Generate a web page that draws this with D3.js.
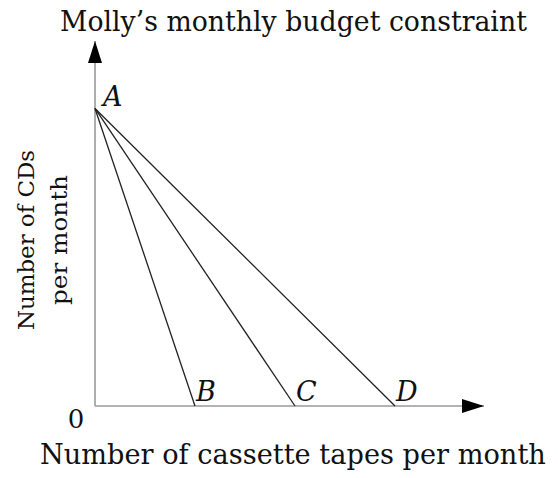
<!DOCTYPE html>
<html>
<head>
<meta charset="utf-8">
<script src="https://cdn.jsdelivr.net/npm/d3@7"></script>
<style>
  html, body { margin: 0; padding: 0; background: #fff; }
  svg { display: block; }
  text { font-family: "DejaVu Serif", "Liberation Serif", serif; fill: #111; }
</style>
</head>
<body>
<svg id="chart" width="558" height="478"></svg>
<script>
// Budget constraint: CDs (vertical) vs cassette tapes (horizontal)
const cdIntercept = 30;                 // point A on the CD axis
const tapeIntercepts = [10, 20, 30];    // points B, C, D on the tape axis
const tapeLabels = ["B", "C", "D"];
const originLabel = "0";
const titleText = "Molly\u2019s monthly budget constraint";
const xTitle = "Number of cassette tapes per month";
const yTitleLines = ["Number of CDs", "per month"];

const svg = d3.select("#chart");

const x = d3.scaleLinear().domain([0, 38.9]).range([95, 484]);
const y = d3.scaleLinear().domain([0, 36.8]).range([406, 41]);

// fit a text horizontally to a given width by scaling it around its start point
function fitWidth(sel, x0, y0, width) {
  const node = sel.node();
  const w = node.getComputedTextLength();
  const k = width / w;
  sel.attr("x", 0).attr("y", 0)
    .attr("transform", `translate(${x0},${y0}) scale(${k},1)`);
}

// arrowheads
const defs = svg.append("defs");
defs.append("marker")
  .attr("id", "arrow")
  .attr("viewBox", "0 0 22 14")
  .attr("refX", 22).attr("refY", 7)
  .attr("markerWidth", 22).attr("markerHeight", 14)
  .attr("markerUnits", "userSpaceOnUse")
  .attr("orient", "auto")
  .append("path")
  .attr("d", "M0,0 L22,7 L0,14 Z")
  .attr("fill", "#000");

// axes
svg.append("line")
  .attr("x1", x(0)).attr("y1", y(0))
  .attr("x2", x(38.9)).attr("y2", y(0))
  .attr("stroke", "#9a9a9a").attr("stroke-width", 1.6)
  .attr("marker-end", "url(#arrow)");
svg.append("line")
  .attr("x1", x(0)).attr("y1", y(0))
  .attr("x2", x(0)).attr("y2", y(36.8))
  .attr("stroke", "#9a9a9a").attr("stroke-width", 1.6)
  .attr("marker-end", "url(#arrow)");

// budget lines from A to each tape intercept
svg.selectAll("line.budget")
  .data(tapeIntercepts)
  .enter().append("line")
  .attr("class", "budget")
  .attr("x1", x(0)).attr("y1", y(cdIntercept))
  .attr("x2", d => x(d)).attr("y2", y(0))
  .attr("stroke", "#222").attr("stroke-width", 1.3);

// point labels
svg.append("text")
  .attr("x", x(0) + 8).attr("y", y(cdIntercept) - 2)
  .attr("font-size", 27).attr("font-style", "italic")
  .text("A");

svg.selectAll("text.pt")
  .data(tapeIntercepts)
  .enter().append("text")
  .attr("class", "pt")
  .attr("x", d => x(d) + 1).attr("y", y(0) - 5)
  .attr("font-size", 27).attr("font-style", "italic")
  .text((d, i) => tapeLabels[i]);

svg.append("text")
  .attr("x", 76).attr("y", 428)
  .attr("text-anchor", "middle")
  .attr("font-size", 26)
  .text(originLabel);

// titles
const title = svg.append("text")
  .attr("font-size", 28)
  .text(titleText);
fitWidth(title, 60, 31, 467);

const xt = svg.append("text")
  .attr("font-size", 28)
  .text(xTitle);
fitWidth(xt, 40, 464, 506);

const yt = svg.append("g").attr("transform", "translate(0,240) rotate(-90)");
yt.selectAll("text")
  .data(yTitleLines)
  .enter().append("text")
  .attr("x", 0).attr("y", (d, i) => 34 + i * 33)
  .attr("text-anchor", "middle")
  .attr("font-size", 23)
  .attr("textLength", (d, i) => i === 0 ? 180 : 130)
  .attr("lengthAdjust", "spacingAndGlyphs")
  .text(d => d);
</script>
</body>
</html>
